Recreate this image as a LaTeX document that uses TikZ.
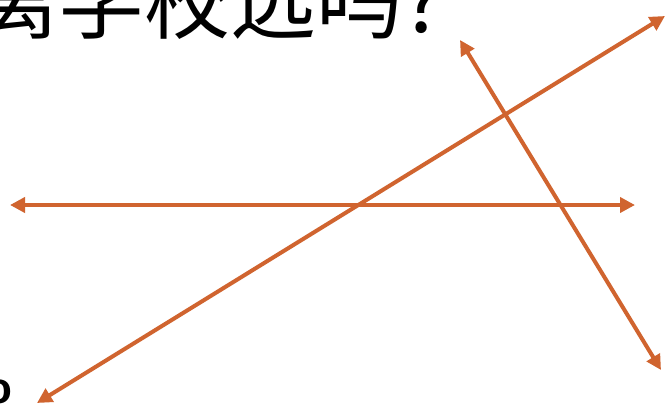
\documentclass[tikz,border=0pt]{standalone}
\usepackage{fontspec}
\newfontfamily\cjk{Noto Sans CJK SC}
\newfontfamily\latinsans{Liberation Sans}
\usetikzlibrary{arrows.meta}
\definecolor{lineorange}{HTML}{D0642F}
\tikzset{
  dline/.style={draw=lineorange, line width=4pt,
    {Triangle[length=15pt,width=15pt]}-{Triangle[length=15pt,width=15pt]}},
  titletext/.style={inner sep=0pt, anchor=base west, font=\cjk\fontsize{86}{86}\selectfont},
  cuttext/.style={inner sep=0pt, anchor=base east, font=\latinsans\bfseries\fontsize{44}{44}\selectfont}
}
\begin{document}
\begin{tikzpicture}[x=1pt,y=-1pt]
\useasboundingbox (0,0) rectangle (667,418);
\clip (0,0) rectangle (667,418);
\fill[white] (0,0) rectangle (667,418);
\node[titletext] (title) at (-28,32) {离学校远吗?};
\node[cuttext] (cut) at (13,403) {o};
\coordinate (hL) at (10,205);
\coordinate (hR) at (635,205);
\coordinate (dBL) at (37,403);
\coordinate (dTR) at (665,16);
\coordinate (sT) at (460,40);
\coordinate (sB) at (661,370);
\draw[dline] (hL) -- (hR);
\draw[dline] (dBL) -- (dTR);
\draw[dline] (sT) -- (sB);
\end{tikzpicture}
\end{document}
